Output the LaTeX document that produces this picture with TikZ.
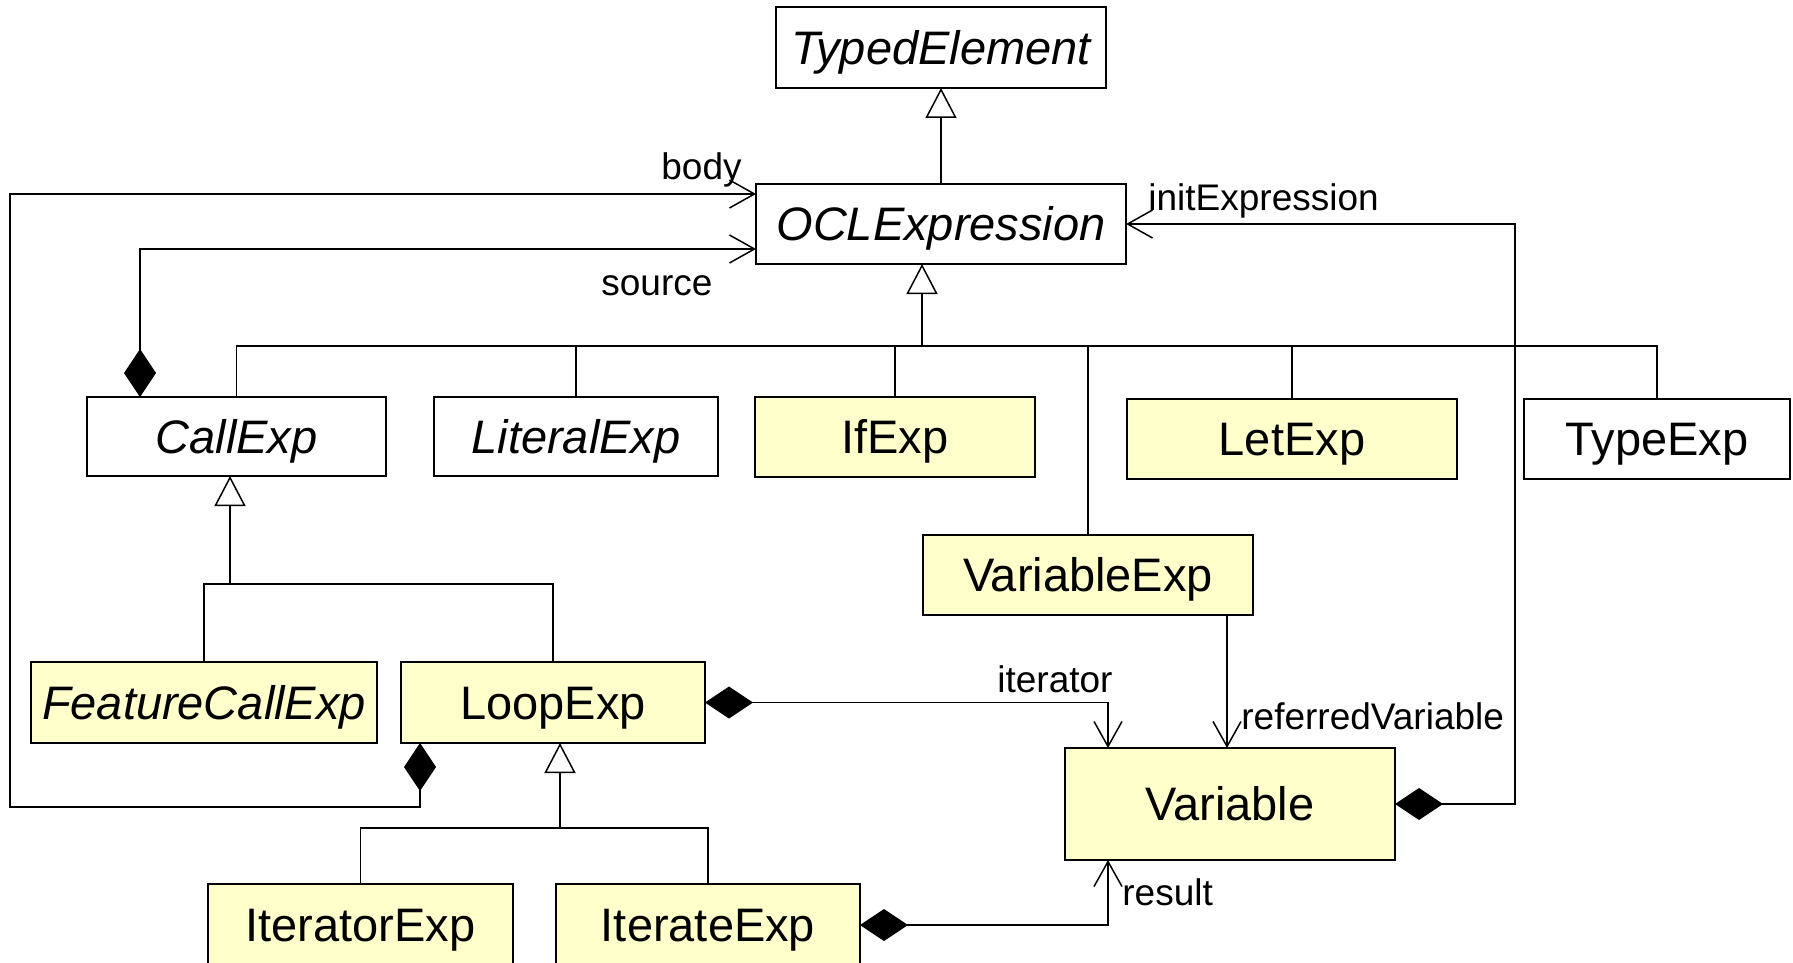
\documentclass[tikz,border=0pt]{standalone}
\usepackage{fontspec}
\setmainfont{Liberation Sans}
\usetikzlibrary{arrows.meta,calc}
\definecolor{classfill}{RGB}{255,255,204}
\tikzset{
  cls/.style={draw, line width=1.1pt, inner sep=0pt, outer sep=0pt,
    font=\fontsize{23.5}{28}\selectfont, text height=16.9pt, text depth=0pt, fill=white},
  concrete/.style={cls, fill=classfill},
  abstract/.style={cls, font=\fontsize{23.5}{28}\selectfont\itshape},
  role/.style={font=\fontsize{18.5}{22}\selectfont, inner sep=0pt, anchor=base west},
  link/.style={line width=0.75pt},
  gen/.style={link, -{Triangle[length=15pt,width=15.5pt,fill=white]}},
  assoc/.style={link, -{Straight Barb[length=12.5pt,width=14pt]}},
  comp/.style={link, {Diamond[length=24pt,width=16pt]}-{Straight Barb[length=12.5pt,width=14pt]}},
}
\begin{document}
\begin{tikzpicture}[x=0.5pt, y=-0.5pt]
\useasboundingbox (0,0) rectangle (1793,963);
\clip (0,0) rectangle (1793,963);

% classes
\node[abstract, minimum width=165pt, minimum height=40.5pt] (typedel) at (941,47.5) {TypedElement};
\node[abstract, minimum width=185pt, minimum height=40pt] (oclexpr) at (941,224) {OCLExpression};
\node[abstract, minimum width=149.5pt, minimum height=39.5pt] (callexp) at (236.5,436.5) {CallExp};
\node[abstract, minimum width=142pt, minimum height=39.5pt] (literalexp) at (576,436.5) {LiteralExp};
\node[concrete, minimum width=140pt, minimum height=40pt] (ifexp) at (895,437) {IfExp};
\node[concrete, minimum width=165pt, minimum height=40pt] (letexp) at (1292,439) {LetExp};
\node[cls, minimum width=133pt, minimum height=40pt] (typeexp) at (1657,439) {TypeExp};
\node[concrete, minimum width=165pt, minimum height=40pt] (varexp) at (1088,575) {VariableExp};
\node[abstract, fill=classfill, minimum width=173pt, minimum height=40.5pt] (featexp) at (204,702.5) {FeatureCallExp};
\node[concrete, minimum width=152pt, minimum height=40.5pt] (loopexp) at (553,702.5) {LoopExp};
\node[concrete, minimum width=165pt, minimum height=56pt] (variable) at (1230,804) {Variable};
\node[concrete, minimum width=152.5pt, minimum height=41pt] (iteratorexp) at (360.5,925) {IteratorExp};
\node[concrete, minimum width=152pt, minimum height=41pt] (iterateexp) at (708,925) {IterateExp};

% generalisations
\draw[gen] (oclexpr.north) -- (typedel.south);

\coordinate (hub) at ($(oclexpr.south west)+(166,82)$);
\draw[gen] (hub) -- (hub |- oclexpr.south);
\foreach \n in {callexp,literalexp,ifexp,letexp,typeexp,varexp}
  \draw[link] (\n.north) |- (hub);

\coordinate (callhub) at ($(callexp.south west)+(143,108)$);
\draw[gen] (callhub) -- (callhub |- callexp.south);
\foreach \n in {featexp,loopexp}
  \draw[link] (\n.north) |- (callhub);

\coordinate (loophub) at ($(loopexp.south west)+(159,85)$);
\draw[gen] (loophub) -- (loophub |- loopexp.south);
\foreach \n in {iteratorexp,iterateexp}
  \draw[link] (\n.north) |- (loophub);

% associations
\coordinate (bodyout) at ($(loopexp.south west)!0.0625!(loopexp.south east)$);
\coordinate (bodyin) at ($(oclexpr.north west)+(0,10)$);
\draw[comp] (bodyout) -- ++(0,64) -| ($(bodyin)+(-746,0)$) -- (bodyin);

\coordinate (srcout) at ($(callexp.north west)+(53,0)$);
\coordinate (srcin) at ($(oclexpr.south west)+(0,-15)$);
\draw[comp] (srcout) |- (srcin);

\draw[comp] (variable.east) -- ++(120,0) |- (oclexpr.east);

\coordinate (itin) at ($(variable.north west)+(43,0)$);
\draw[comp] (loopexp.east) -| (itin);

\coordinate (resin) at ($(variable.south west)+(43,0)$);
\draw[comp] (iterateexp.east) -| (resin);

\coordinate (refout) at ($(varexp.south east)+(-26,0)$);
\draw[assoc] (refout) -- (refout |- variable.north);

% role names
\node[role] (lbody) at (661,179) {body};
\node[role] (lsource) at (601,295) {source};
\node[role] (linit) at (1148,210) {initExpression};
\node[role] (liter) at (997,692) {iterator};
\node[role] (lref) at (1241,729) {referredVariable};
\node[role] (lres) at (1122,905) {result};
\end{tikzpicture}
\end{document}
